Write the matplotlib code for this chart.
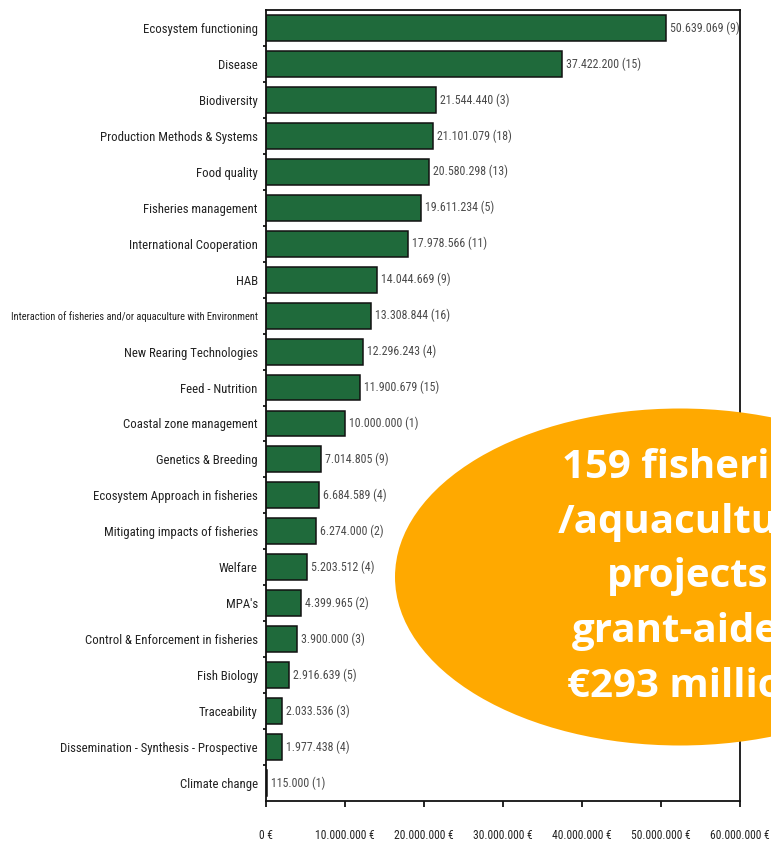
import matplotlib.pyplot as plt
import matplotlib.font_manager as fm
from matplotlib.patches import Ellipse
import numpy as np

categories = [
    'Ecosystem functioning', 'Disease', 'Biodiversity',
    'Production Methods & Systems', 'Food quality', 'Fisheries management',
    'International Cooperation', 'HAB',
    'Interaction of fisheries and/or aquaculture with Environment',
    'New Rearing Technologies', 'Feed - Nutrition', 'Coastal zone management',
    'Genetics & Breeding', 'Ecosystem Approach in fisheries',
    'Mitigating impacts of fisheries', 'Welfare', "MPA's",
    'Control & Enforcement in fisheries', 'Fish Biology', 'Traceability',
    'Dissemination - Synthesis - Prospective', 'Climate change',
]
funding = [50639069, 37422200, 21544440, 21101079, 20580298, 19611234,
           17978566, 14044669, 13308844, 12296243, 11900679, 10000000,
           7014805, 6684589, 6274000, 5203512, 4399965, 3900000,
           2916639, 2033536, 1977438, 115000]
n_projects = [9, 15, 3, 18, 13, 5, 11, 9, 16, 4, 15, 1, 9, 4, 2, 4, 2, 3, 5, 3, 4, 1]
xticks = [0, 10000000, 20000000, 30000000, 40000000, 50000000, 60000000]
callout = '159 fisheries\n/aquaculture\nprojects\ngrant-aided\n€293 million'


def pick_narrow():
    # look for a condensed face, the original uses a condensed font
    prefs = ['Liberation Sans Narrow', 'Open Sans Condensed', 'Roboto Condensed',
             'DejaVu Sans Condensed', 'DejaVu Sans']
    found = {}
    for f in fm.fontManager.ttflist:
        narrow = ('Narrow' in f.name or 'Condensed' in f.name or 'Condensed' in f.fname
                  or f.stretch in ('condensed', 'semi-condensed', 'extra-condensed', 500))
        if narrow and f.style == 'normal' and f.weight in (400, 'normal', 'regular', 'book'):
            found.setdefault(f.name, f.fname)
    for p in prefs:
        if p in found:
            return fm.FontProperties(fname=found[p]), True
    if found:
        return fm.FontProperties(fname=list(found.values())[0]), True
    return fm.FontProperties(family=['Liberation Sans', 'DejaVu Sans']), False


narrow_fp, is_narrow = pick_narrow()
k = 1.0 if is_narrow else 0.85
cat_size, val_size, tick_size = 9.2 * k, 8.6 * k, 8.4 * k


def euro(v):
    return f'{v:,}'.replace(',', '.')


fig = plt.figure(figsize=(7.71, 8.49), dpi=100)
ax = fig.add_axes([266 / 771, 1 - 801 / 849, 474 / 771, 791 / 849])

y = np.arange(len(categories))
ax.barh(y, funding, height=0.72, color='#1f6a3b', edgecolor='#111111', linewidth=1.1)

for yi, v, n in zip(y, funding, n_projects):
    ax.text(v + 500000, yi, f'{euro(v)} ({n})', va='center', ha='left',
            fontproperties=narrow_fp, fontsize=val_size, color='#4a4a4a')

ax.set_xlim(0, 60000000)
ax.set_ylim(len(categories) - 0.5, -0.5)

# boundary ticks without labels, labels on minor ticks at bar centres
ax.set_yticks(np.arange(0.5, len(categories) - 1, 1))
ax.set_yticklabels([])
ax.set_yticks(y, minor=True)
ylabs = ax.set_yticklabels(categories, minor=True, color='#222222')
for t in ylabs:
    t.set_fontproperties(narrow_fp)
    t.set_fontsize(cat_size)
ax.tick_params(axis='y', which='major', length=2.5, width=1.2, direction='out')
ax.tick_params(axis='y', which='minor', length=0, pad=6)

ax.set_xticks(xticks)
xlabs = ax.set_xticklabels([('0' if t == 0 else euro(t)) + ' €' for t in xticks],
                           color='#222222')
for t in xlabs:
    t.set_fontproperties(narrow_fp)
    t.set_fontsize(tick_size)
ax.tick_params(axis='x', length=4, width=1.2, direction='out', pad=16)

for s in ax.spines.values():
    s.set_linewidth(1.3)
    s.set_color('#111111')

# shrink any category label that would run off the left edge
fig.canvas.draw()
r = fig.canvas.get_renderer()
for t in ylabs:
    bb = t.get_window_extent(r)
    if bb.x0 < 8:
        t.set_fontsize(cat_size * (bb.x1 - 10) / bb.width)

# orange call-out bubble over the chart (runs off the right edge)
bubble = Ellipse((680 / 771, 1 - 577 / 849), 570 / 771, 337 / 849,
                 transform=fig.transFigure, facecolor='#ffa900',
                 edgecolor='none', zorder=10)
fig.patches.append(bubble)
fig.text(688 / 771, 1 - 577 / 849, callout, ha='center', va='center',
         fontsize=29, fontweight='bold', color='white', linespacing=1.53,
         family=['Open Sans', 'DejaVu Sans'], zorder=11)

fig.savefig('out.png', dpi=100, facecolor='white')
